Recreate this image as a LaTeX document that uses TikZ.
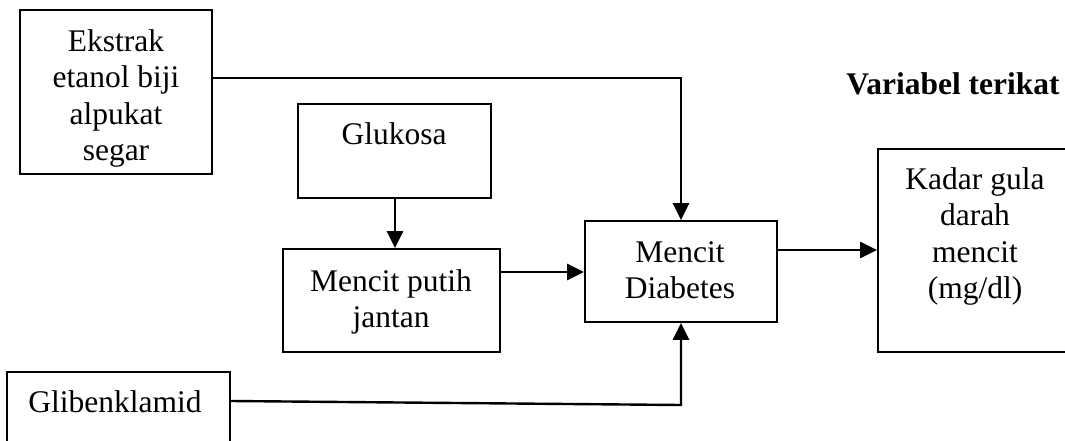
\documentclass[tikz,border=0pt]{standalone}
\usepackage{fontspec}
\setmainfont{Liberation Serif}
\usetikzlibrary{arrows.meta}
\tikzset{
  box/.style={draw, line width=1.8pt, inner sep=0pt, rectangle},
  txt/.style={inner sep=0pt, align=center, font=\fontsize{31.5}{36.5}\selectfont},
  arr/.style={line width=2.4pt, -{Triangle[length=17pt,width=16pt]}}
}
\begin{document}
\begin{tikzpicture}[x=1pt,y=-1pt]
\useasboundingbox (0,0) rectangle (1065,441);
% boxes
\node[box, minimum width=192pt, minimum height=164pt] (ek) at (116,92) {};
\node[box, minimum width=193pt, minimum height=94pt] (glu) at (394.5,151) {};
\node[box, minimum width=217pt, minimum height=103pt] (mp) at (391.5,300.5) {};
\node[box, minimum width=192pt, minimum height=101pt] (diab) at (681,271.5) {};
\node[box, minimum width=210pt, minimum height=203pt] (kadar) at (983,250.5) {};
\node[box, minimum width=223pt, minimum height=100pt] (glib) at (118.5,422) {};
% texts
\node[txt, anchor=north] (tek) at (116,29) {Ekstrak\\etanol biji\\alpukat\\segar};
\node[txt, anchor=base] (tglu) at (394,145) {Glukosa};
\node[txt, anchor=north] (tmp) at (391,269) {Mencit putih\\jantan};
\node[txt, anchor=north] (tdiab) at (680,241) {Mencit\\Diabetes};
\node[txt, anchor=north] (tkad) at (975,167) {Kadar gula\\darah\\mencit\\(mg/dl)};
\node[txt, anchor=base] (tglib) at (115,412) {Glibenklamid};
\node[txt, anchor=base, font=\fontsize{31.5}{36.5}\selectfont\bfseries] (tvar) at (953,95) {Variabel terikat};
% connectors
\coordinate (c1) at (681,78);
\draw[arr] (ek.east |- c1) -- (c1) -- (diab.north -| c1);
\draw[arr] (glu.south -| 395,0) -- (mp.north -| 395,0);
\draw[arr] (mp.east |- 0,272) -- (diab.west |- 0,272);
\draw[arr] (diab.east |- 0,250) -- (kadar.west |- 0,250);
\coordinate (c2) at (681,405);
\draw[arr] (glib.east |- 0,401) -- (c2) -- (diab.south -| c2);
\end{tikzpicture}
\end{document}
